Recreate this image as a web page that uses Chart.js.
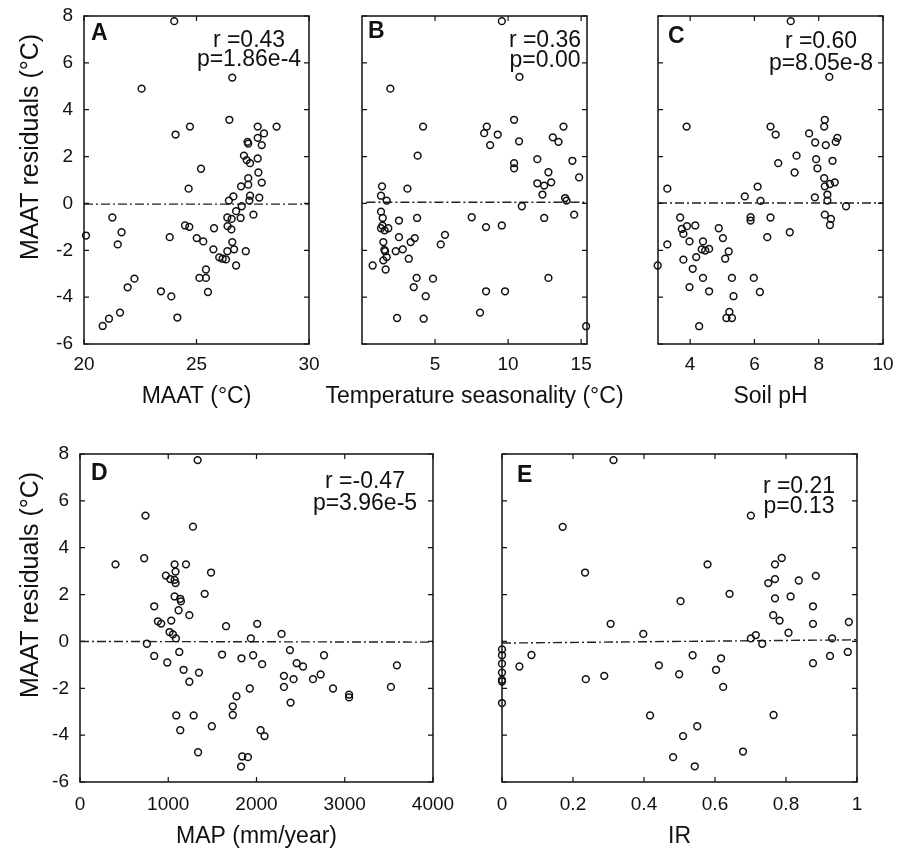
<!DOCTYPE html>
<html>
<head>
<meta charset="utf-8">
<script src="https://cdn.jsdelivr.net/npm/chart.js@4.4.0/dist/chart.umd.min.js"></script>
<style>
  html, body { margin: 0; padding: 0; background: #fff; overflow: hidden; }
  #fig { position: relative; width: 899px; height: 849px; overflow: hidden; }
  #fig canvas { position: absolute; }
</style>
</head>
<body>
<div id="fig"></div>
<script>
// MAAT residuals (°C) against each predictor, [x, residual]
const ptsMAAT = [[24.01,7.78],[22.56,4.90],[26.59,5.37],[26.46,3.57],[24.07,2.94],[24.71,3.28],[27.72,3.28],[28.56,3.28],[28.00,2.99],[27.72,2.80],[27.27,2.63],[27.30,2.55],[27.90,2.49],[25.20,1.48],[27.11,2.04],[27.23,1.85],[27.38,1.72],[27.72,1.92],[27.75,1.32],[27.30,1.08],[27.90,0.89],[26.98,0.73],[27.30,0.80],[24.65,0.63],[26.64,0.30],[26.44,0.12],[27.38,0.33],[27.35,0.12],[27.79,0.25],[27.01,-0.12],[26.76,-0.33],[26.37,-0.60],[26.56,-0.66],[26.96,-0.62],[27.53,-0.48],[21.26,-0.60],[21.67,-1.23],[21.50,-1.75],[20.09,-1.37],[24.49,-0.94],[24.68,-1.00],[25.78,-1.06],[26.38,-0.97],[26.55,-1.11],[23.81,-1.44],[25.01,-1.48],[25.30,-1.62],[26.59,-1.65],[25.75,-1.96],[26.37,-2.04],[26.67,-1.96],[27.19,-2.04],[26.01,-2.30],[26.16,-2.36],[26.31,-2.39],[26.76,-2.65],[25.42,-2.82],[25.13,-3.18],[25.42,-3.18],[25.51,-3.78],[22.24,-3.21],[21.94,-3.58],[23.42,-3.75],[23.88,-3.97],[24.15,-4.87],[21.60,-4.66],[21.11,-4.92],[20.83,-5.23]];
const ptsSeason = [[9.57,7.78],[10.78,5.40],[1.94,4.90],[4.18,3.28],[8.54,3.28],[8.36,3.00],[9.29,2.94],[8.77,2.49],[10.41,3.57],[10.75,2.65],[10.41,1.72],[10.41,1.50],[3.81,2.04],[1.37,0.73],[3.11,0.63],[1.30,0.33],[1.69,0.12],[10.94,-0.12],[1.30,-0.35],[1.42,-0.62],[1.30,-1.06],[1.40,-0.95],[1.80,-1.06],[1.55,-1.15],[2.53,-0.73],[3.77,-0.62],[2.53,-1.44],[1.46,-1.65],[3.33,-1.65],[3.61,-1.48],[1.53,-1.98],[1.58,-2.04],[2.31,-2.04],[2.79,-1.96],[1.69,-2.29],[1.46,-2.43],[3.20,-2.36],[0.73,-2.65],[1.62,-2.82],[5.39,-1.75],[5.68,-1.34],[7.51,-0.59],[8.49,-1.01],[9.57,-0.94],[3.74,-3.18],[4.86,-3.21],[3.54,-3.57],[4.36,-3.96],[8.49,-3.75],[9.79,-3.75],[8.08,-4.66],[2.40,-4.89],[4.22,-4.92],[13.79,3.28],[13.06,2.82],[13.45,2.63],[12.00,1.89],[14.40,1.82],[12.76,1.33],[12.00,0.86],[12.47,0.76],[12.95,0.90],[12.35,0.38],[14.86,1.11],[13.90,0.23],[14.00,0.12],[14.52,-0.48],[12.47,-0.62],[12.76,-3.18],[15.34,-5.24]];
const ptsPH = [[3.89,3.28],[3.29,0.63],[3.69,-0.60],[3.74,-1.09],[3.90,-0.97],[4.16,-0.94],[3.79,-1.30],[3.29,-1.75],[3.98,-1.62],[4.40,-1.62],[4.36,-1.96],[4.47,-2.01],[4.59,-1.94],[3.79,-2.40],[4.19,-2.29],[2.99,-2.65],[4.08,-2.79],[4.89,-1.06],[5.02,-1.48],[5.20,-2.05],[5.09,-2.36],[4.40,-3.18],[3.98,-3.57],[4.59,-3.75],[5.30,-3.18],[5.35,-3.96],[5.13,-4.89],[5.30,-4.89],[5.22,-4.63],[4.28,-5.24],[7.13,7.78],[8.33,5.40],[8.19,3.57],[8.17,3.28],[6.50,3.28],[6.66,2.94],[7.70,2.99],[7.89,2.60],[8.22,2.49],[8.58,2.80],[8.53,2.63],[7.31,2.04],[6.74,1.72],[7.92,1.89],[8.43,1.82],[7.25,1.32],[7.96,1.50],[8.17,1.08],[8.50,0.90],[8.35,0.83],[8.19,0.73],[6.10,0.72],[5.70,0.30],[6.19,0.11],[7.88,0.26],[8.27,0.38],[8.27,0.12],[8.85,-0.12],[5.88,-0.59],[5.88,-0.73],[6.50,-0.60],[8.19,-0.48],[8.38,-0.66],[8.35,-0.92],[6.40,-1.44],[7.10,-1.23],[5.98,-3.18],[6.17,-3.78]];
const ptsMAP = [[1333,7.74],[742,5.37],[1280,4.90],[402,3.29],[727,3.55],[1072,3.29],[1201,3.29],[1083,2.98],[973,2.81],[1023,2.66],[1072,2.63],[1083,2.49],[1485,2.94],[1413,2.03],[1072,1.92],[1136,1.82],[1144,1.71],[841,1.50],[1117,1.33],[1239,1.12],[883,0.86],[920,0.76],[1034,0.89],[1015,0.40],[1053,0.30],[1087,0.13],[1655,0.65],[2008,0.75],[2284,0.32],[1936,0.13],[758,-0.10],[841,-0.62],[989,-0.90],[1125,-0.45],[1174,-1.21],[1348,-1.33],[1239,-1.72],[1610,-0.56],[1830,-0.72],[1962,-0.59],[2064,-0.97],[2379,-0.37],[2455,-0.93],[2527,-1.07],[2765,-0.59],[2311,-1.47],[2420,-1.61],[2640,-1.61],[2727,-1.41],[2311,-1.94],[2867,-2.01],[1924,-2.01],[2386,-2.61],[3049,-2.27],[3049,-2.39],[3523,-1.94],[3591,-1.02],[1773,-2.34],[1731,-2.77],[1731,-3.14],[1091,-3.16],[1288,-3.16],[1136,-3.79],[1494,-3.62],[2046,-3.79],[2091,-4.04],[1338,-4.73],[1838,-4.91],[1903,-4.94],[1825,-5.34]];
const ptsIR = [[0.314,7.74],[0.171,4.89],[0.701,5.37],[0.234,2.94],[0.579,3.29],[0.769,3.29],[0.788,3.56],[0.750,2.49],[0.769,2.66],[0.836,2.60],[0.884,2.80],[0.641,2.03],[0.503,1.72],[0.769,1.84],[0.813,1.92],[0.876,1.50],[0.764,1.12],[0.782,0.89],[0.876,0.75],[0.977,0.83],[0.306,0.75],[0.398,0.32],[0.807,0.37],[0.701,0.13],[0.715,0.27],[0.733,-0.10],[0.930,0.13],[0,-0.34],[0,-0.59],[0,-0.95],[0,-1.33],[0,-1.64],[0,-1.71],[0,-2.63],[0.049,-1.07],[0.083,-0.58],[0.236,-1.61],[0.288,-1.47],[0.442,-1.02],[0.499,-1.40],[0.537,-0.59],[0.617,-0.72],[0.603,-1.21],[0.623,-1.94],[0.876,-0.93],[0.924,-0.62],[0.974,-0.45],[0.417,-3.16],[0.765,-3.14],[0.550,-3.62],[0.510,-4.04],[0.679,-4.70],[0.482,-4.94],[0.543,-5.33]];

// dash-dot fit lines, [x, y] end points
const fitMAAT = [[20, -0.03], [30, -0.03]];
const fitSeason = [[0.3, 0.05], [15.4, 0.05]];
const fitPH = [[3, 0.02], [10, 0.02]];
const fitMAP = [[0, 0.0], [4000, -0.03]];
const fitIR = [[0, -0.07], [1, 0.07]];

// tick labels
const yTicks = [-6, -4, -2, 0, 2, 4, 6, 8];
const ticksMAAT = [20, 25, 30];
const ticksSeason = [5, 10, 15];
const ticksPH = [4, 6, 8, 10];
const ticksMAP = [0, 1000, 2000, 3000, 4000];
const ticksIR = [0, 0.2, 0.4, 0.6, 0.8, 1];

// r / p text
const statsMAAT = ['r =0.43', 'p=1.86e-4'];
const statsSeason = ['r =0.36', 'p=0.00'];
const statsPH = ['r =0.60', 'p=8.05e-8'];
const statsMAP = ['r =-0.47', 'p=3.96e-5'];
const statsIR = ['r =0.21', 'p=0.13'];

const yTitle = 'MAAT residuals (°C)';

const FONT = "'Liberation Sans', Arial, Helvetica, sans-serif";
const INK = '#111';

// box = plot area [left, top, width, height] in page pixels
const panels = [
  { letter: 'A', pts: ptsMAAT, fit: fitMAAT, stats: statsMAAT, xTicks: ticksMAAT, xMin: 20, xMax: 30,
    xTitle: 'MAAT (°C)', yLabels: true, box: [84, 16, 225, 328], letterAt: [7, 24], statsAt: [60, 31, 50], xPad: 9, titleY: 59 },
  { letter: 'B', pts: ptsSeason, fit: fitSeason, stats: statsSeason, xTicks: ticksSeason, xMin: 0, xMax: 15.4,
    xTitle: 'Temperature seasonality (°C)', yLabels: false, box: [362, 16, 225, 328], letterAt: [6, 22], statsAt: [42, 31, 51], xPad: 9, titleY: 59 },
  { letter: 'C', pts: ptsPH, fit: fitPH, stats: statsPH, xTicks: ticksPH, xMin: 3, xMax: 10,
    xTitle: 'Soil pH', yLabels: false, box: [658, 16, 225, 328], letterAt: [10, 27], statsAt: [62, 32, 54], xPad: 9, titleY: 59 },
  { letter: 'D', pts: ptsMAP, fit: fitMAP, stats: statsMAP, xTicks: ticksMAP, xMin: 0, xMax: 4000,
    xTitle: 'MAP (mm/year)', yLabels: true, box: [80, 454, 353, 328], letterAt: [11, 26], statsAt: [68, 34, 56], xPad: 11, titleY: 61 },
  { letter: 'E', pts: ptsIR, fit: fitIR, stats: statsIR, xTicks: ticksIR, xMin: 0, xMax: 1,
    xTitle: 'IR', yLabels: false, box: [502, 454, 355, 328], letterAt: [15, 28], statsAt: [58, 39, 59], xPad: 11, titleY: 61 }
];

// frame, inward ticks, axis titles, panel letter and r/p text
const panelDecor = {
  id: 'panelDecor',
  afterDatasetsDraw(chart, args, o) {
    const { ctx, chartArea: a, scales: { x, y } } = chart;
    ctx.save();
    ctx.strokeStyle = INK;
    ctx.lineWidth = 1.5;
    ctx.strokeRect(a.left, a.top, a.right - a.left, a.bottom - a.top);
    ctx.lineWidth = 1.2;
    ctx.beginPath();
    x.ticks.forEach(t => {
      const px = x.getPixelForValue(t.value);
      ctx.moveTo(px, a.bottom); ctx.lineTo(px, a.bottom - 5);
      ctx.moveTo(px, a.top); ctx.lineTo(px, a.top + 5);
    });
    y.ticks.forEach(t => {
      const py = y.getPixelForValue(t.value);
      ctx.moveTo(a.left, py); ctx.lineTo(a.left + 5, py);
      ctx.moveTo(a.right, py); ctx.lineTo(a.right - 5, py);
    });
    ctx.stroke();

    ctx.fillStyle = INK;
    ctx.textBaseline = 'alphabetic';
    ctx.textAlign = 'left';
    ctx.font = 'bold 23px ' + FONT;
    ctx.fillText(o.letter, a.left + o.letterAt[0], a.top + o.letterAt[1]);

    ctx.textAlign = 'center';
    ctx.font = '23px ' + FONT;
    const cx = a.right - o.statsAt[0];
    ctx.fillText(o.stats[0], cx, a.top + o.statsAt[1]);
    ctx.fillText(o.stats[1], cx, a.top + o.statsAt[2]);

    ctx.fillText(o.xTitle, (a.left + a.right) / 2, a.bottom + o.titleY);

    if (o.yLabels) {
      ctx.font = '25px ' + FONT;
      ctx.translate(38, a.top + 131);
      ctx.rotate(-Math.PI / 2);
      ctx.fillText(yTitle, 0, 0);
    }
    ctx.restore();
  }
};

const fig = document.getElementById('fig');

function makePanel(p) {
  const [left, top, w, h] = p.box;
  const yW = p.yLabels ? left : 40;
  const padT = 12, padR = 45, xH = 70;
  const cw = yW + w + padR, ch = padT + h + xH;

  const cv = document.createElement('canvas');
  cv.width = cw; cv.height = ch;
  cv.style.left = (left - yW) + 'px';
  cv.style.top = (top - padT) + 'px';
  cv.style.width = cw + 'px';
  cv.style.height = ch + 'px';
  fig.appendChild(cv);

  new Chart(cv, {
    type: 'scatter',
    data: {
      datasets: [
        {
          data: p.pts.map(([x, y]) => ({ x, y })),
          pointStyle: 'circle',
          pointRadius: 3.4,
          pointBorderWidth: 1.5,
          pointBorderColor: INK,
          pointBackgroundColor: 'rgba(0,0,0,0)',
          clip: false
        },
        {
          type: 'line',
          data: p.fit.map(([x, y]) => ({ x, y })),
          borderColor: '#222',
          borderWidth: 1.4,
          borderDash: [9, 3, 2, 3],
          pointRadius: 0,
          fill: false
        }
      ]
    },
    options: {
      responsive: false,
      animation: false,
      devicePixelRatio: 1,
      events: [],
      layout: { padding: { top: padT, right: padR, left: 0, bottom: 0 } },
      plugins: {
        legend: { display: false },
        tooltip: { enabled: false },
        panelDecor: {
          letter: p.letter, letterAt: p.letterAt, stats: p.stats, statsAt: p.statsAt,
          xTitle: p.xTitle, titleY: p.titleY, yLabels: p.yLabels
        }
      },
      scales: {
        x: {
          type: 'linear',
          min: p.xMin,
          max: p.xMax,
          grid: { display: false, drawTicks: false },
          border: { display: false },
          ticks: {
            padding: p.xPad,
            color: INK,
            font: { family: FONT, size: 19 },
            maxRotation: 0,
            autoSkip: false,
            callback: v => String(v)
          },
          title: { display: false },
          afterBuildTicks: s => { s.ticks = p.xTicks.map(v => ({ value: v })); },
          afterFit: s => { s.height = xH; s.paddingLeft = 0; s.paddingRight = 0; }
        },
        y: {
          type: 'linear',
          min: -6,
          max: 8,
          grid: { display: false, drawTicks: false },
          border: { display: false },
          ticks: {
            display: p.yLabels,
            padding: 11,
            color: INK,
            font: { family: FONT, size: 19 },
            callback: v => String(v)
          },
          title: { display: false },
          afterBuildTicks: s => { s.ticks = yTicks.map(v => ({ value: v })); },
          afterFit: s => { s.width = yW; s.paddingTop = 0; s.paddingBottom = 0; }
        }
      }
    },
    plugins: [panelDecor]
  });
}

panels.forEach(makePanel);
</script>
</body>
</html>
